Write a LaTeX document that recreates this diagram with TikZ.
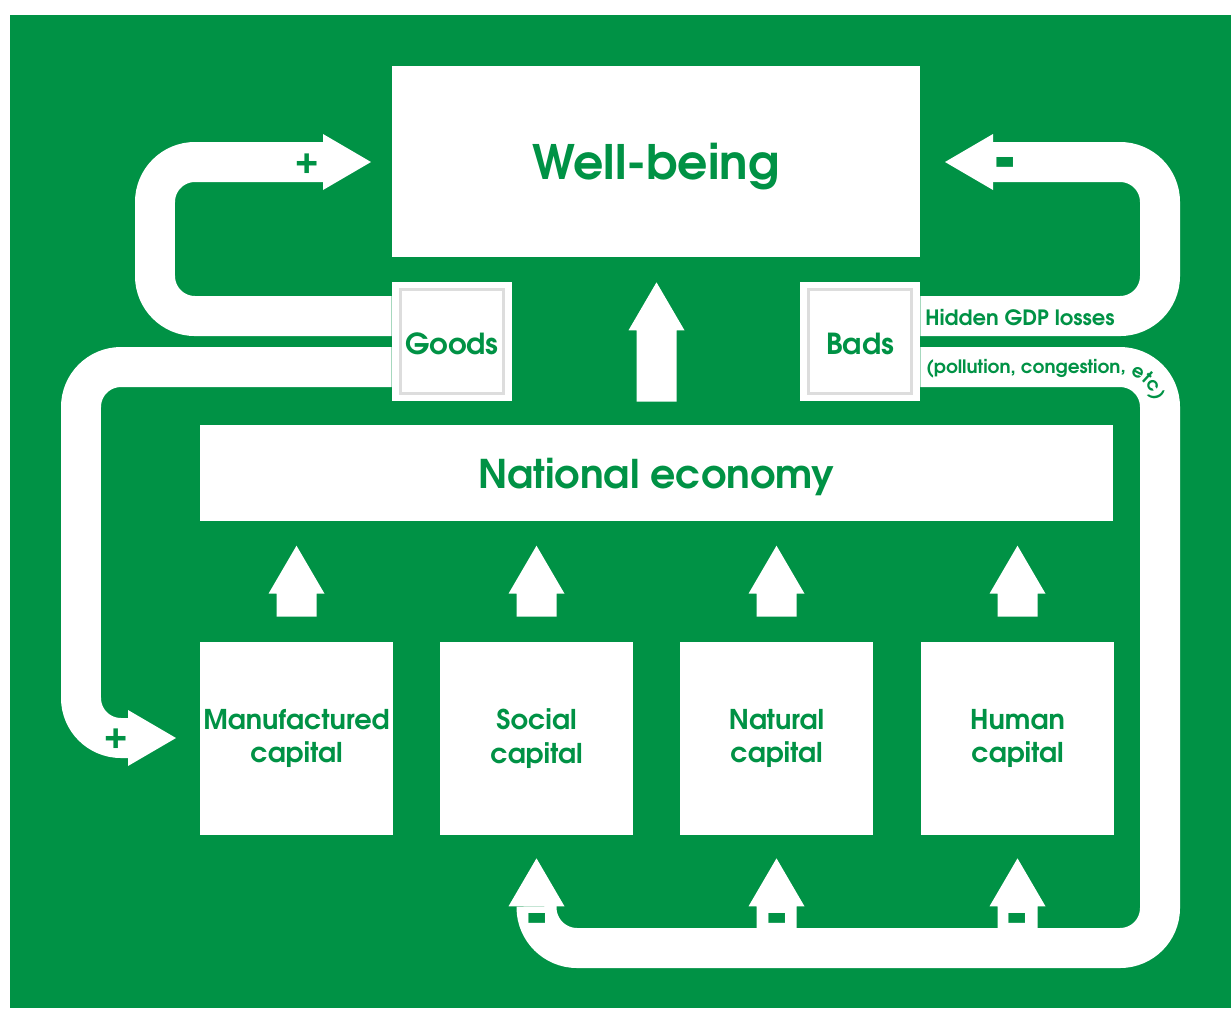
\documentclass[tikz,border=0pt]{standalone}
\usepackage{fontspec}
\setmainfont{texgyreadventor}[Extension=.otf, UprightFont=*-regular, BoldFont=*-bold, ItalicFont=*-italic, BoldItalicFont=*-bolditalic]
\usetikzlibrary{calc,positioning,decorations.text}
\definecolor{LeafClr}{RGB}{0,146,69}
\definecolor{FrameClr}{RGB}{221,221,221}

% arrow heads for the white bands (sizes in px of the 1231x1008 frame)
\newcommand{\HeadRight}[1]{\fill[white] ($(#1)+(0,-28)$) -- ($(#1)+(48,0)$) -- ($(#1)+(0,28)$) -- cycle;}
\newcommand{\HeadLeft}[1]{\fill[white] ($(#1)+(0,-28)$) -- ($(#1)+(-48,0)$) -- ($(#1)+(0,28)$) -- cycle;}
\newcommand{\BlockUp}[2]{\fill[white] ($(#1)+(-20,0)$) -- ($(#2)+(-20,48)$) -- ($(#2)+(-28,48)$) -- (#2) -- ($(#2)+(28,48)$) -- ($(#2)+(20,48)$) -- ($(#1)+(20,0)$) -- cycle;}

\begin{document}
\begin{tikzpicture}[x=0.02cm,y=-0.02cm,
  block/.style={fill=white,inner sep=0pt,align=center,text=LeafClr,font=\bfseries},
  capbox/.style={block,minimum width=3.86cm,minimum height=3.86cm,font=\bfseries\fontsize{15.5}{19}\selectfont},
  tagbox/.style={block,minimum width=2.4cm,minimum height=2.4cm,text height=15pt,text depth=0pt,font=\bfseries\fontsize{16.5}{20}\selectfont,
    path picture={\draw[FrameClr,line width=0.06cm] ([shift={(0.16cm,0.16cm)}]path picture bounding box.south west) rectangle ([shift={(-0.16cm,-0.16cm)}]path picture bounding box.north east);}},
  band/.style={draw=white,line width=0.8cm,rounded corners=0.8cm},
  sign/.style={text=LeafClr,inner sep=0pt,font=\bfseries\fontsize{20}{20}\selectfont},
  minussign/.style={text=LeafClr,inner sep=0pt,font=\bfseries\fontsize{34}{34}\selectfont},
  bandtext/.style={text=LeafClr,inner sep=0pt,font=\bfseries\fontsize{12}{14}\selectfont}]

\useasboundingbox (0,0) rectangle (1231,1008);
\fill[white] (0,0) rectangle (1231,1008);
\fill[LeafClr] (10,15) rectangle (1231,1008);

% boxes
\node[block,minimum width=10.56cm,minimum height=3.82cm,text depth=0pt,font=\bfseries\fontsize{27}{30}\selectfont] (wb) at (656,161.5) {Well-being};
\node[tagbox] (goods) at (452,341.5) {Goods};
\node[tagbox] (bads) at (860,341.5) {Bads};
\node[block,minimum width=18.26cm,minimum height=1.92cm,text depth=0pt,font=\bfseries\fontsize{22.5}{26}\selectfont] (eco) at (656.5,473) {National economy};
\node[capbox] (manu) at (296.5,738.5) {Manufactured\\capital};
\node[capbox] (social) at (536.5,738.5) {Social\\capital};
\node[capbox] (natural) at (776.5,738.5) {Natural\\capital};
\node[capbox] (human) at (1017.5,738.5) {Human\\capital};

% economy -> well-being
\coordinate (ecofoot) at ($(eco.north)+(0,-23)$);
\coordinate (wbtip) at ($(wb.south)+(0.5,25)$);
\BlockUp{ecofoot}{wbtip}

% capitals -> economy
\foreach \c in {manu,social,natural,human}{
  \coordinate (\c-foot) at ($(\c.north)+(0,-25)$);
  \coordinate (\c-tip) at ($(\c.north)+(0,-96)$);
  \BlockUp{\c-foot}{\c-tip}
}

% goods -> well-being (+)
\coordinate (plusbase) at (323,162);
\draw[band] ($(goods.north west)+(0,35)$) -- (155,316) -- (155,162) -- (plusbase);
\HeadRight{plusbase}

% bads -> well-being (-)
\coordinate (minusbase) at (993,162);
\draw[band] ($(bads.north east)+(0,35)$) -- (1160,316) -- (1160,162) -- (minusbase);
\HeadLeft{minusbase}

% goods -> manufactured capital (+)
\coordinate (manubase) at (128,738);
\draw[band] ($(goods.north west)+(0,86)$) -- (81,367) -- (81,738) -- (manubase);
\HeadRight{manubase}

% bads -> social, natural, human capital (-)
\coordinate (socialbase) at ($(social.south)+(0,71)$);
\draw[band] ($(bads.north east)+(0,86)$) -- (1160,367) -- (1160,948) -- (537,948) -- (socialbase);
\BlockUp{socialbase}{$(social.south)+(0,23)$}
\coordinate (natural-band) at ($(natural.south)+(0,113)$);
\coordinate (human-band) at ($(human.south)+(0,113)$);
\coordinate (natural-up) at ($(natural.south)+(0,23)$);
\coordinate (human-up) at ($(human.south)+(0,23)$);
\BlockUp{natural-band}{natural-up}
\BlockUp{human-band}{human-up}

% signs
\node[sign] (plus1) at (307,164) {+};
\node[sign] (plus2) at (116,739) {+};
\node[minussign] (minus1) at (1005,172) {\scalebox{1}[1.4]{-}};
\node[minussign] (minus2) at (537,928) {\scalebox{1}[1.4]{-}};
\node[minussign] (minus3) at (777,928) {\scalebox{1}[1.4]{-}};
\node[minussign] (minus4) at (1017,928) {\scalebox{1}[1.4]{-}};

% band labels
\node[bandtext] (hidden) at (1020,318) {Hidden GDP losses};
\path[decorate,decoration={text along path,text color=LeafClr,
  text={|\bfseries\fontsize{10.5}{12}\selectfont|(pollution, congestion, etc)}}]
  (926,373) -- (1120,373) .. controls (1139,373) and (1154,388) .. (1154,407) -- (1154,480);

\end{tikzpicture}
\end{document}
